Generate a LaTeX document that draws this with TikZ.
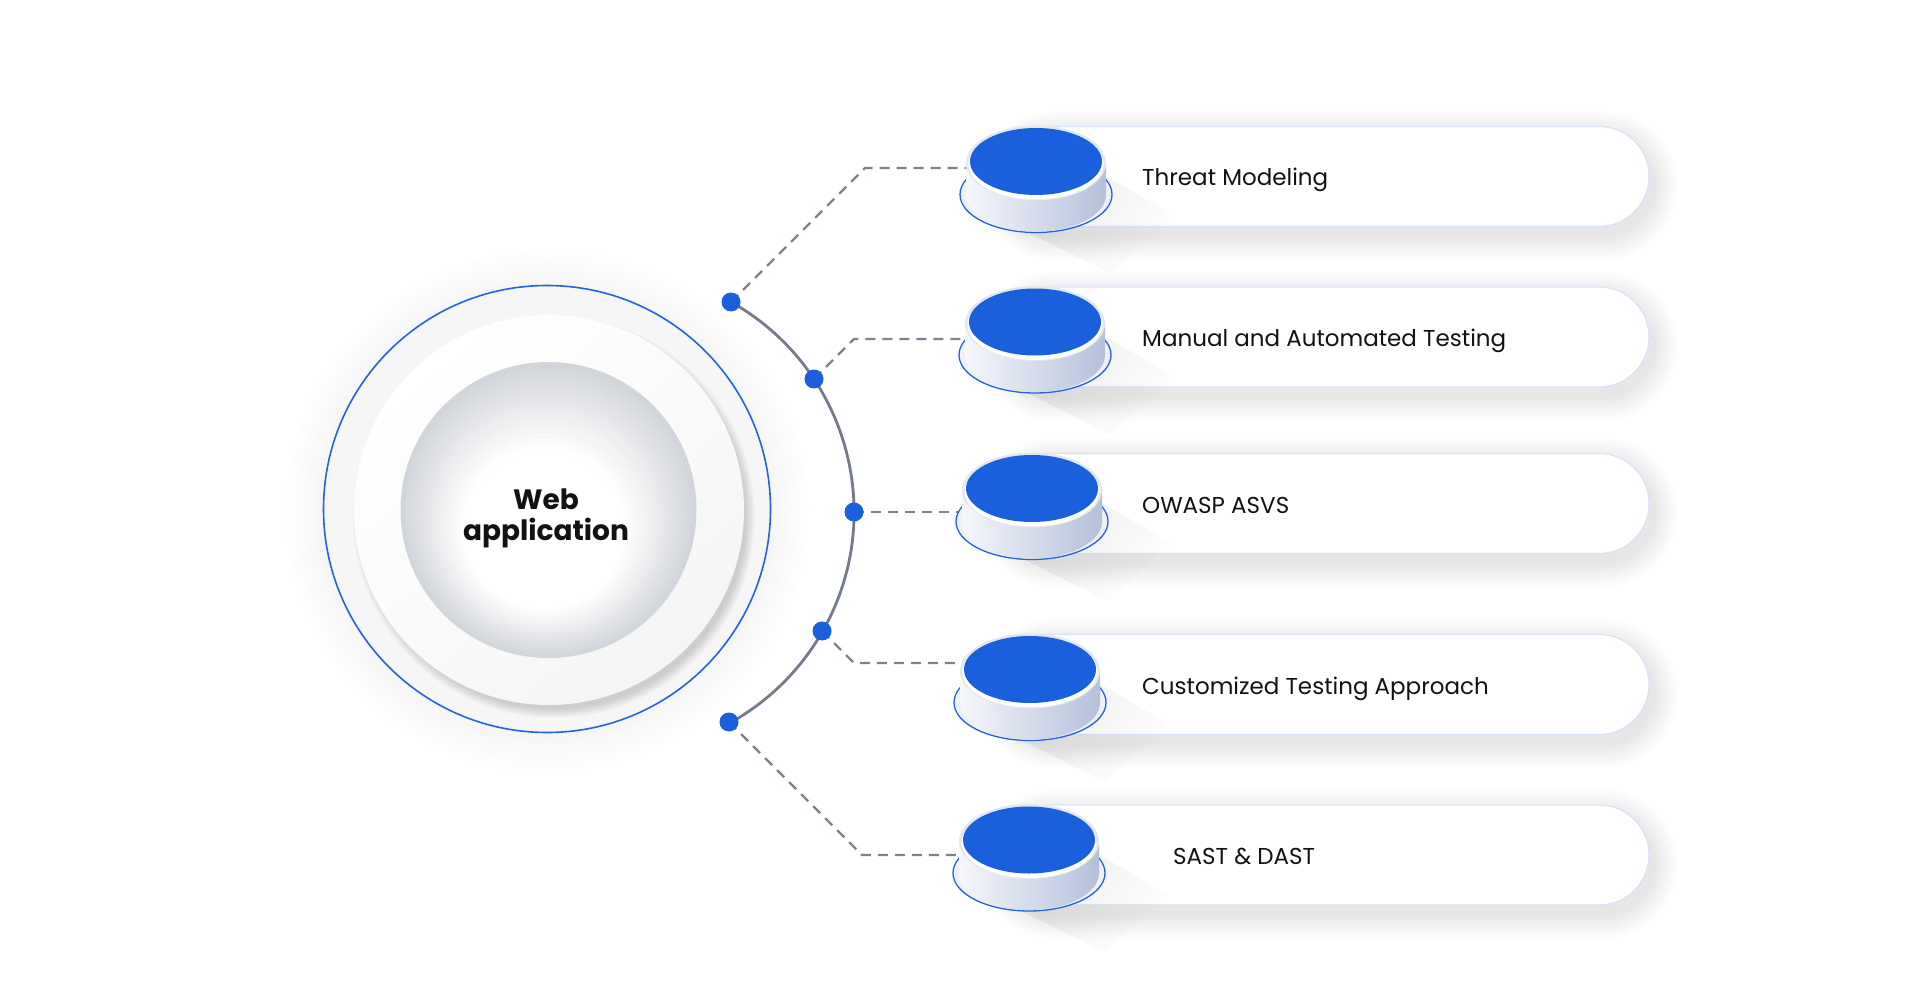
\documentclass[tikz,border=0pt]{standalone}
\usepackage{fontspec}
\setmainfont{Poppins}
\usetikzlibrary{fadings,shapes.geometric}
\definecolor{bluemain}{HTML}{1A5FDB}
\definecolor{ringblue}{HTML}{2463DB}
\definecolor{arcgray}{HTML}{737B8C}
\definecolor{dashgray}{HTML}{7A8296}
\definecolor{pillborder}{HTML}{D9E3F7}
\definecolor{rimcol}{HTML}{E3E7EF}
\definecolor{bodyL}{HTML}{F6F7FB}
\definecolor{bodyR}{HTML}{B5C0DA}
\definecolor{platecol}{HTML}{EEF0F4}
\definecolor{diskgray}{HTML}{D2D5DA}
\definecolor{txt}{HTML}{121212}
\tikzfading[name=fadeaway, left color=transparent!0, right color=transparent!100]
\begin{document}
\begin{tikzpicture}[x=1pt,y=-1pt,
  arcline/.style={draw=arcgray, line width=2.8pt},
  dashconn/.style={draw=dashgray, line width=2.2pt, dash pattern=on 10pt off 7pt},
  dotnode/.style={circle, fill=bluemain, inner sep=0pt, minimum size=19pt},
  itemlabel/.style={anchor=base west, font=\fontsize{23}{28}\selectfont, text=txt, inner sep=0pt},
  centerlabel/.style={align=center, font=\bfseries\fontsize{28}{31}\selectfont, text=txt, inner sep=0pt},
  pillfill/.style={fill=white, draw=pillborder, line width=1.2pt},
  blueline/.style={draw=ringblue, line width=1.6pt},
  topdisc/.style={ellipse, fill=bluemain, minimum width=132pt, minimum height=67pt, inner sep=0pt}
]
\useasboundingbox[fill=white] (0,0) rectangle (1920,987);

% ---- central glow
\foreach \i in {0,...,12}{
  \pgfmathsetmacro\r{264-3*\i}
  \pgfmathsetmacro\p{0.28*\i}
  \fill[black!\p] (547,511) circle[radius=\r];
}
% blue ring
\draw[blueline] (547,509) circle[radius=223.5];
% white disc shadow
\foreach \i in {0,...,6}{
  \pgfmathsetmacro\r{201-1.5*\i}
  \fill[black, opacity=0.022] (554,517) circle[radius=\r];
}
\shade[top color=white, bottom color=black!4, shading angle=40] (549,510) circle[radius=195];
% inner disc gradient
\foreach \i in {0,...,29}{
  \pgfmathsetmacro\r{148-4.6*\i}
  \pgfmathsetmacro\cxx{548.5-0.3*\i}
  \pgfmathsetmacro\cyy{510+1.3*\i}
  \pgfmathsetmacro\p{max(0,100-7*\i)}
  \fill[diskgray!\p!white] (\cxx,\cyy) circle[radius=\r];
}
\node[centerlabel] (web) at (546,518) {Web\\application};

% ---- anchor coordinates
\coordinate (p1) at (731,302);
\coordinate (p2) at (814,379);
\coordinate (p3) at (854,512);
\coordinate (p4) at (822,631);
\coordinate (p5) at (729,722);
\coordinate (c1) at (865,168);
\coordinate (c2) at (854,339);
\coordinate (c4) at (854,663);
\coordinate (c5) at (862,855);
\coordinate (e1) at (980,168);
\coordinate (e2) at (975,339);
\coordinate (e3) at (975,512);
\coordinate (e4) at (970,663);
\coordinate (e5) at (970,855);

% arc
\draw[arcline] (p1) arc[start angle=-60.7, end angle=61, radius=241];

% ---- pills
\foreach \n/\pc in {1/176.5,2/337,3/503.5,4/684.5,5/855}{
  \foreach \k in {1,...,8}{
    \pgfmathsetmacro\rc{50+3*\k}
    \fill[black, opacity=0.011, rounded corners=\rc pt] (1000-3*\k+4,\pc-50-3*\k+9) rectangle (1649+3*\k+4,\pc+50+3*\k+9);
  }
  \draw[pillfill, rounded corners=50pt] (1000,\pc-50) rectangle (1649,\pc+50);
}

% ---- connectors
\draw[dashconn] (p1) -- (c1) -- (e1);
\draw[dashconn] (p2) -- (c2) -- (e2);
\draw[dashconn] (p3) -- (e3);
\draw[dashconn] (p4) -- (c4) -- (e4);
\draw[dashconn] (p5) -- (c5) -- (e5);

% ---- cylinders
\foreach \n/\pc/\cx in {1/176.5/1036,2/337/1035,3/503.5/1032,4/684.5/1030,5/855/1029}{
  \pgfmathsetmacro\cy{\pc-15}
  \fill[black, opacity=0.07, path fading=fadeaway, fading angle=-30] (\cx+62,\cy+10) -- (\cx+140,\cy+55) -- (\cx+75,\cy+112) -- (\cx-10,\cy+70) -- cycle;
  \filldraw[fill=platecol, draw=ringblue, line width=1.3pt] (\cx,\cy+33) ellipse[x radius=76, y radius=38];
  \shade[left color=bodyL, right color=bodyR] (\cx-70,\cy) -- (\cx-70,\cy+33) arc[start angle=180, end angle=0, x radius=70, y radius=37] -- (\cx+70,\cy) -- cycle;
  \fill[rimcol] (\cx,\cy+1.5) ellipse[x radius=70, y radius=37.5];
  \fill[white] (\cx,\cy+2.5) ellipse[x radius=67.5, y radius=35.5];
  \node[topdisc] (t\n) at (\cx,\cy) {};
}

% ---- dots
\foreach \n in {1,...,5}{
  \node[dotnode] (d\n) at (p\n) {};
}

% ---- labels
\node[itemlabel] (l1) at (1142,186) {Threat Modeling};
\node[itemlabel] (l2) at (1142,346.5) {Manual and Automated Testing};
\node[itemlabel] (l3) at (1142,513) {OWASP ASVS};
\node[itemlabel] (l4) at (1142,694) {Customized Testing Approach};
\node[itemlabel] (l5) at (1173,864.5) {SAST \& DAST};
\end{tikzpicture}
\end{document}
